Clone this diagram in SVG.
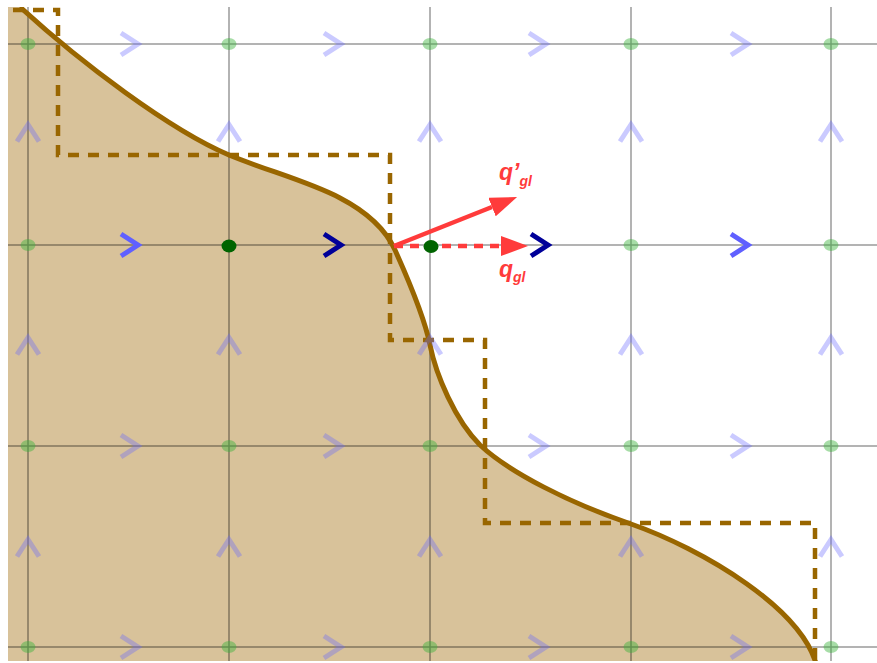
<svg xmlns="http://www.w3.org/2000/svg" width="877" height="663" viewBox="0 0 877 663">
<style>
.grid{stroke:#000;stroke-opacity:0.4;stroke-width:1.5;fill:none}
.curve{fill:none;stroke:#996600;stroke-width:5}
.steps{fill:none;stroke:#996600;stroke-width:4.5;stroke-dasharray:11 9}
.dot{fill:#3cb43c;fill-opacity:0.45}
.dot2{fill:#006400}
.chev{fill:none;stroke:#6666ff;stroke-width:5;stroke-opacity:0.35}
.bright{stroke:#6060ff;stroke-opacity:1}
.navy{stroke:#000099;stroke-opacity:1}
.red{stroke:#ff3b3b;stroke-width:4.5;fill:none}
.lbl{font-family:"Liberation Sans",Arial,sans-serif;font-weight:bold;font-style:italic;font-size:23px;fill:#ff3b3b}
.sub{font-size:14px}
</style>
<defs>
<clipPath id="clip"><rect x="8" y="7" width="869" height="654"/></clipPath>
<marker id="head" viewBox="0 0 27 20" refX="0" refY="10" markerWidth="27" markerHeight="20" markerUnits="userSpaceOnUse" orient="auto">
<path d="M0,0 L27,10 L0,20 Z" fill="#ff3b3b"/>
</marker>
<path id="cr" d="M-9,-11 L8,0 L-9,11"/>
<path id="cu" d="M-11,8.5 L0,-8.5 L11,8.5"/>
</defs>
<rect width="877" height="663" fill="#fff"/>
<g clip-path="url(#clip)">
<g id="fill">
<path fill="#d8c29a" d="M8,7 L20,7 C80,62 170,130 229,155 C265,170 310,182 340,198 C365,211 385,228 395,250 C404,270 424,315 430,345 C436,375 455,420 480,445 C510,473 570,503 631,524 C700,548 808,610 818,672 L8,672 Z"/>
</g>
<g id="grid" class="grid">
<path d="M28,7V661 M229,7V661 M430,7V661 M631,7V661 M831,7V661 M8,44H877 M8,245H877 M8,446H877 M8,647H877"/>
</g>
<g id="curve">
<path class="curve" d="M20,7 C80,62 170,130 229,155 C265,170 310,182 340,198 C365,211 385,228 395,250 C404,270 424,315 430,345 C436,375 455,420 480,445 C510,473 570,503 631,524 C700,548 808,610 818,672"/>
</g>
<g id="steps">
<path class="steps" d="M13,10 H58 V155 H390 V340 H485 V523 H815 V662"/>
</g>
<g id="dots">
<g class="dot">
<ellipse cx="28" cy="44" rx="7.5" ry="6"/><ellipse cx="229" cy="44" rx="7.5" ry="6"/><ellipse cx="430" cy="44" rx="7.5" ry="6"/><ellipse cx="631" cy="44" rx="7.5" ry="6"/><ellipse cx="831" cy="44" rx="7.5" ry="6"/>
<ellipse cx="28" cy="245" rx="7.5" ry="6"/><ellipse cx="631" cy="245" rx="7.5" ry="6"/><ellipse cx="831" cy="245" rx="7.5" ry="6"/>
<ellipse cx="28" cy="446" rx="7.5" ry="6"/><ellipse cx="229" cy="446" rx="7.5" ry="6"/><ellipse cx="430" cy="446" rx="7.5" ry="6"/><ellipse cx="631" cy="446" rx="7.5" ry="6"/><ellipse cx="831" cy="446" rx="7.5" ry="6"/>
<ellipse cx="28" cy="647" rx="7.5" ry="6"/><ellipse cx="229" cy="647" rx="7.5" ry="6"/><ellipse cx="430" cy="647" rx="7.5" ry="6"/><ellipse cx="631" cy="647" rx="7.5" ry="6"/><ellipse cx="831" cy="647" rx="7.5" ry="6"/>
</g>
</g>
<g id="fluxes" class="chev">
<use href="#cr" x="130" y="44"/><use href="#cr" x="333" y="44"/><use href="#cr" x="538" y="44"/><use href="#cr" x="740" y="44"/>
<use href="#cr" x="130" y="446"/><use href="#cr" x="333" y="446"/><use href="#cr" x="538" y="446"/><use href="#cr" x="740" y="446"/>
<use href="#cr" x="130" y="647"/><use href="#cr" x="333" y="647"/><use href="#cr" x="538" y="647"/><use href="#cr" x="740" y="647"/>
<use href="#cu" x="28" y="133"/><use href="#cu" x="229" y="133"/><use href="#cu" x="430" y="133"/><use href="#cu" x="631" y="133"/><use href="#cu" x="831" y="133"/>
<use href="#cu" x="28" y="346"/><use href="#cu" x="229" y="346"/><use href="#cu" x="430" y="346"/><use href="#cu" x="631" y="346"/><use href="#cu" x="831" y="346"/>
<use href="#cu" x="28" y="548"/><use href="#cu" x="229" y="548"/><use href="#cu" x="430" y="548"/><use href="#cu" x="631" y="548"/><use href="#cu" x="831" y="548"/>
<use href="#cr" x="130" y="245" class="bright"/><use href="#cr" x="740" y="245" class="bright"/>
<use href="#cr" x="333" y="245" class="navy"/><use href="#cr" x="540" y="245" class="navy"/>
</g>
<g id="connectors">
<path class="red" d="M394,246 L492,207" marker-end="url(#head)"/>
<path class="red" d="M394,246 L501,246" stroke-dasharray="9 7" marker-end="url(#head)"/>
</g>
<g id="centers">
<ellipse class="dot2" cx="229" cy="246" rx="7.5" ry="6.5"/>
<ellipse class="dot2" cx="431" cy="246.5" rx="7.5" ry="6.5"/>
</g>
</g>
<g id="labels">
<text class="lbl" x="499" y="180">q’<tspan class="sub" dy="6">gl</tspan></text>
<text class="lbl" x="499" y="277">q<tspan class="sub" dy="5">gl</tspan></text>
</g>
</svg>
